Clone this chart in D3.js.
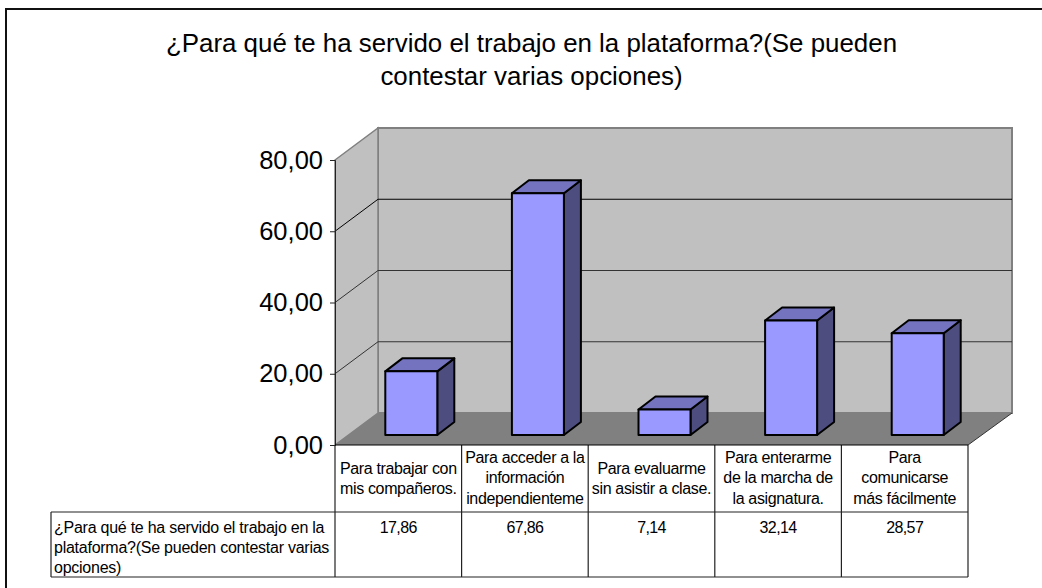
<!DOCTYPE html>
<html>
<head>
<meta charset="utf-8">
<script src="https://cdn.jsdelivr.net/npm/d3@7"></script>
<style>
  html, body { margin: 0; padding: 0; background: #fff; }
  svg { display: block; }
  text { font-family: "Liberation Sans", Arial, sans-serif; fill: #000; }
</style>
</head>
<body>
<script>
// Chart values
var titleLines = ["¿Para qué te ha servido el trabajo en la plataforma?(Se pueden", "contestar varias opciones)"];
var categories = ["trabajar", "acceder", "evaluarme", "enterarme", "comunicarse"];
var categoryLines = [
  ["Para trabajar con", "mis compañeros."],
  ["Para acceder a la", "información", "independienteme"],
  ["Para evaluarme", "sin asistir a clase."],
  ["Para enterarme", "de la marcha de", "la asignatura."],
  ["Para", "comunicarse", "más fácilmente"]
];
var values = [17.86, 67.86, 7.14, 32.14, 28.57];
var valueLabels = ["17,86", "67,86", "7,14", "32,14", "28,57"];
var rowLabelLines = ["¿Para qué te ha servido el trabajo en la", "plataforma?(Se pueden contestar varias", "opciones)"];
var yTicks = [0, 20, 40, 60, 80];

var width = 1042, height = 588;

var svg = d3.select("body")
  .append("svg")
    .attr("width", width)
    .attr("height", height);

// Scales for the front plane of the 3D box
var x = d3.scaleBand().domain(categories).range([335, 968]);
var y = d3.scaleLinear().domain([0, 80]).range([445, 160]);

// Depth of the box
var depthX = 43, depthY = -32;

function poly(points) { return points.map(function(p) { return p.join(","); }).join(" "); }

// Outer frame, only left and top are inside the picture
svg.append("path")
  .attr("d", "M6,588V9H1042")
  .attr("fill", "none")
  .attr("stroke", "#111")
  .attr("stroke-width", 2);

// Title
svg.append("g").selectAll("text")
  .data(titleLines)
  .enter()
  .append("text")
    .attr("x", 531.5)
    .attr("y", function(d, i) { return 52 + i * 33; })
    .attr("text-anchor", "middle")
    .style("font-size", "25.9px")
    .text(function(d) { return d; });

var x0 = x.range()[0], x1 = x.range()[1];

// Walls and floor
svg.append("polygon")
  .attr("points", poly([[x0 + depthX, y(80) + depthY], [x1 + depthX + 1, y(80) + depthY], [x1 + depthX + 1, y(0) + depthY], [x0 + depthX, y(0) + depthY]]))
  .attr("fill", "#c0c0c0")
  .attr("stroke", "#808080")
  .attr("stroke-width", 2);
svg.append("polygon")
  .attr("points", poly([[x0, y(80)], [x0 + depthX, y(80) + depthY], [x0 + depthX, y(0) + depthY], [x0, y(0)]]))
  .attr("fill", "#c0c0c0")
  .attr("stroke", "#808080")
  .attr("stroke-width", 1.5);
svg.append("polygon")
  .attr("points", poly([[x0, y(0)], [x0 + depthX, y(0) + depthY], [x1 + depthX + 1, y(0) + depthY], [x1, y(0)]]))
  .attr("fill", "#808080");
svg.append("line")
  .attr("x1", x1).attr("y1", y(0))
  .attr("x2", x1 + depthX + 1).attr("y2", y(0) + depthY)
  .attr("stroke", "#333");

// Gridlines, running up the side wall and across the back
svg.append("g").selectAll("polyline")
  .data([20, 40, 60])
  .enter()
  .append("polyline")
    .attr("points", function(d) {
      return poly([[x0, y(d)], [x0 + depthX, y(d) + depthY], [x1 + depthX + 1, y(d) + depthY]]);
    })
    .attr("fill", "none")
    .attr("stroke", function(d) { return d == 60 ? "#000" : "#333"; })
    .attr("stroke-width", 1);

// Bars sit in the middle of the floor depth
var barW = 52, barShift = 13, barRise = 10, barDx = 17, barDy = -13;
var bars = svg.append("g").selectAll("g")
  .data(categories)
  .enter()
  .append("g")
    .attr("stroke", "#000")
    .attr("stroke-width", 2)
    .attr("stroke-linejoin", "round");

function barLeft(c) { return x(c) + x.bandwidth() / 2 - barW / 2 + barShift; }
function barTop(i) { return y(values[i]) - barRise; }
function barBase() { return y(0) - barRise; }

bars.append("polygon")
  .attr("fill", "#4d4d80")
  .attr("points", function(c, i) {
    var r = barLeft(c) + barW;
    return poly([[r, barTop(i)], [r + barDx, barTop(i) + barDy], [r + barDx, barBase() + barDy], [r, barBase()]]);
  });
bars.append("polygon")
  .attr("fill", "#7373bf")
  .attr("points", function(c, i) {
    var l = barLeft(c), t = barTop(i);
    return poly([[l, t], [l + barDx, t + barDy], [l + barW + barDx, t + barDy], [l + barW, t]]);
  });
bars.append("rect")
  .attr("fill", "#9999ff")
  .attr("x", barLeft)
  .attr("y", function(c, i) { return barTop(i); })
  .attr("width", barW)
  .attr("height", function(c, i) { return barBase() - barTop(i); });

// Y axis
var yAxis = svg.append("g")
  .attr("transform", "translate(" + x0 + ",0)")
  .call(d3.axisLeft(y)
    .tickValues(yTicks)
    .tickSize(5)
    .tickPadding(7)
    .tickFormat(function(d) { return d3.format(".2f")(d).replace(".", ","); }));
yAxis.selectAll("text").style("font-size", "25.5px").attr("fill", "#000");
yAxis.selectAll("line").attr("stroke", "#222");
yAxis.select(".domain").attr("stroke", "#222");

// Data table under the chart
var tableTop = y(0), rowLine = 512, tableBottom = 577, tableLeft = 51;
var table = svg.append("g").attr("stroke", "#222").attr("stroke-width", 1.2);
x.domain().concat(["end"]).forEach(function(c, i) {
  var px = i < categories.length ? x(c) : x1;
  table.append("line").attr("x1", px).attr("x2", px).attr("y1", tableTop).attr("y2", tableBottom);
});
table.append("line").attr("x1", x0).attr("x2", x1).attr("y1", tableTop).attr("y2", tableTop).attr("stroke", "#000");
table.append("line").attr("x1", tableLeft).attr("x2", x1).attr("y1", rowLine).attr("y2", rowLine);
table.append("line").attr("x1", tableLeft).attr("x2", x1).attr("y1", tableBottom).attr("y2", tableBottom);
table.append("line").attr("x1", tableLeft).attr("x2", tableLeft).attr("y1", rowLine).attr("y2", tableBottom);

// Category headers, centred vertically in their cell
categories.forEach(function(c, i) {
  var lines = categoryLines[i];
  var first = lines.length == 3 ? 463 : 474;
  svg.append("g").selectAll("text")
    .data(lines)
    .enter()
    .append("text")
      .attr("x", x(c) + x.bandwidth() / 2)
      .attr("y", function(d, j) { return first + j * 20.3; })
      .attr("text-anchor", "middle")
      .style("font-size", "16px")
      .style("letter-spacing", "-0.35px")
      .text(function(d) { return d; });
});

// Value row
svg.append("g").selectAll("text")
  .data(valueLabels)
  .enter()
  .append("text")
    .attr("x", function(d, i) { return x(categories[i]) + x.bandwidth() / 2; })
    .attr("y", 533)
    .attr("text-anchor", "middle")
    .style("font-size", "16px")
    .style("letter-spacing", "-0.6px")
    .text(function(d) { return d; });

// Row label
svg.append("g").selectAll("text")
  .data(rowLabelLines)
  .enter()
  .append("text")
    .attr("x", 54)
    .attr("y", function(d, i) { return 533 + i * 20; })
    .style("font-size", "16px")
    .style("letter-spacing", "-0.25px")
    .text(function(d) { return d; });
</script>
</body>
</html>
